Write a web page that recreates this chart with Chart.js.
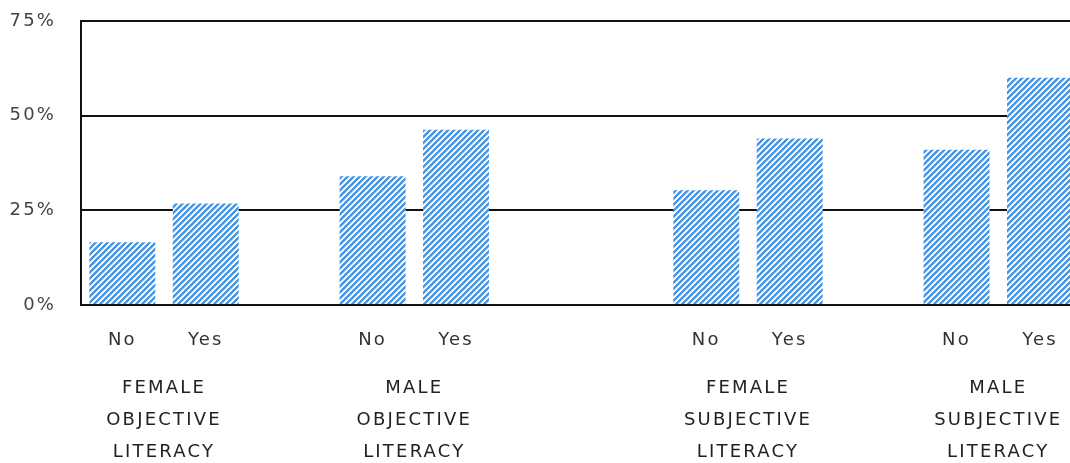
<!DOCTYPE html>
<html>
<head>
<meta charset="utf-8">
<script src="https://cdn.jsdelivr.net/npm/chart.js@4"></script>
<style>
  html, body { margin: 0; padding: 0; background: #fff; overflow: hidden; }
  #wrap { position: relative; width: 1082px; height: 465px; }
</style>
</head>
<body>
<div id="wrap"><canvas id="grafico"></canvas></div>
<script>
// dados
const categorias = ["No", "Yes", "", "No", "Yes", "", "", "No", "Yes", "", "No", "Yes"];
const valores = [16.6, 26.8, null, 34, 46.3, null, null, 30.3, 44, null, 41, 60];
// rótulos dos grupos, nas divisas entre as barras (13 posições)
const grupos = [
  "", ["FEMALE", "OBJECTIVE", "LITERACY"], "", "",
  ["MALE", "OBJECTIVE", "LITERACY"], "", "", "",
  ["FEMALE", "SUBJECTIVE", "LITERACY"], "", "",
  ["MALE", "SUBJECTIVE", "LITERACY"], "",
];
const ticksY = [0, 25, 50, 75];

// hachura diagonal azul
function hachura() {
  const p = 6;
  const c = document.createElement("canvas");
  c.width = p; c.height = p;
  const ctx = c.getContext("2d");
  const img = ctx.createImageData(p, p);
  for (let y = 0; y < p; y++) {
    for (let x = 0; x < p; x++) {
      const k = (x + y) % p;
      let t = k < 3 ? 1 : (k === 3 ? 0.45 : 0);
      const i = (y * p + x) * 4;
      img.data[i] = Math.round(255 - t * (255 - 74));
      img.data[i + 1] = Math.round(255 - t * (255 - 150));
      img.data[i + 2] = Math.round(255 - t * (255 - 224));
      img.data[i + 3] = 255;
    }
  }
  ctx.putImageData(img, 0, 0);
  return ctx.createPattern(c, "repeat");
}

// espaçamento entre letras, como na figura original
const espacamento = {
  id: "espacamento",
  beforeLayout: (chart) => { chart.ctx.letterSpacing = "2.2px"; },
  beforeDraw: (chart) => { chart.ctx.letterSpacing = "2.2px"; },
};

const fonte = { family: "DejaVu Sans", size: 18 };

new Chart(document.getElementById("grafico"), {
  type: "bar",
  data: {
    labels: categorias,
    datasets: [
      {
        data: valores,
        backgroundColor: hachura(),
        borderWidth: 0,
        barPercentage: 0.79,
        categoryPercentage: 1,
      },
    ],
  },
  plugins: [espacamento],
  options: {
    responsive: true,
    maintainAspectRatio: false,
    animation: false,
    layout: { padding: { top: 21, right: 0, left: 9.5, bottom: 0 } },
    plugins: {
      legend: { display: false },
      tooltip: { enabled: false },
    },
    scales: {
      x: {
        type: "category",
        grid: { display: false, drawTicks: false },
        border: { display: false },
        ticks: { color: "#333", font: fonte, padding: 24.2, maxRotation: 0, autoSkip: false },
      },
      x2: {
        type: "category",
        position: "bottom",
        labels: grupos,
        offset: false,
        grid: { display: false, drawTicks: false },
        border: { display: false },
        ticks: {
          color: "#222",
          font: { family: "DejaVu Sans", size: 18, lineHeight: 1.7778 },
          padding: -3,
          maxRotation: 0,
          autoSkip: false,
        },
      },
      y: {
        min: 0,
        max: 75,
        afterBuildTicks: (eixo) => {
          eixo.ticks = ticksY.map((v) => ({ value: v }));
        },
        // marcas invisíveis só para afastar os rótulos do eixo
        grid: { color: "#111", lineWidth: 2, drawTicks: true, tickLength: 24.5, tickColor: "rgba(0,0,0,0)" },
        border: { display: true, color: "#111", width: 2 },
        ticks: {
          color: "#444",
          font: fonte,
          padding: 0,
          callback: (v) => v + "%",
        },
      },
    },
  },
});
</script>
</body>
</html>
